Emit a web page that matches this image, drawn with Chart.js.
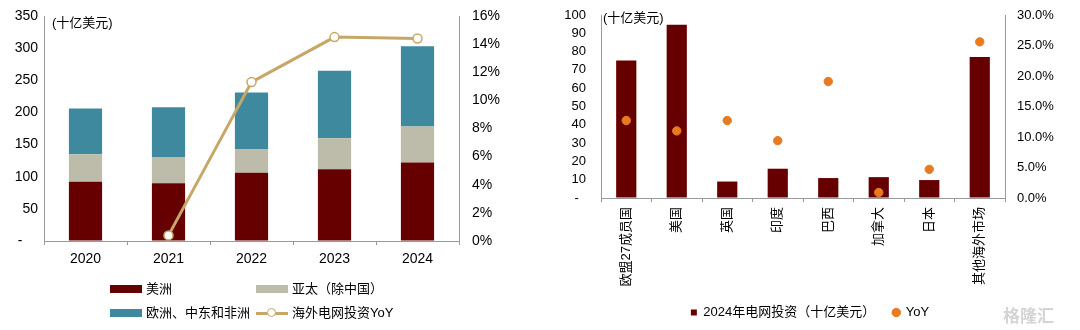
<!DOCTYPE html>
<html>
<head>
<meta charset="utf-8">
<script src="https://cdn.jsdelivr.net/npm/chart.js@4.4.1/dist/chart.umd.min.js"></script>
<style>
  body { margin: 0; background: #fff; font-family: "Liberation Sans", "Noto Sans CJK SC", sans-serif; }
  #wrap { position: relative; width: 1080px; height: 330px; overflow: hidden; }
  #left { position: absolute; left: 0; top: 0; }
  #right { position: absolute; left: 540px; top: 0; }
  .lg { position: absolute; font-size: 13px; color: #000; line-height: 16px; white-space: nowrap; }
  .sw { position: absolute; width: 32px; height: 8px; }
  .wm { position: absolute; left: 1003px; top: 302px; font-size: 17px; color: #d4d4d4; font-weight: bold; }
</style>
</head>
<body>
<div id="wrap">
  <canvas id="left" width="540" height="330"></canvas>
  <canvas id="right" width="540" height="330"></canvas>
  <div id="legendLeft"></div>
  <div class="wm">格隆汇</div>
</div>
<script>
// left chart data
const years = ['2020', '2021', '2022', '2023', '2024'];
const americas = [92, 90, 106, 111.5, 122];
const apac = [43, 40, 37, 48.5, 56];
const emea = [71, 78, 88, 105, 125];
const overseasYoY = [null, 0.4, 11.3, 14.5, 14.4];

// right chart data
const markets = ['欧盟27成员国', '美国', '英国', '印度', '巴西', '加拿大', '日本', '其他海外市场'];
const invest2024 = [75.2, 94.7, 9, 16, 10.9, 11.4, 9.8, 77];
const marketYoY = [12.7, 11.0, 12.7, 9.4, 19.1, 0.9, 4.7, 25.6];

const FONT = "'Liberation Sans', 'Noto Sans CJK SC', sans-serif";
const AXIS = '#999999';
const RED = '#660000';
const GREY = '#BDBBAA';
const TEAL = '#3E899D';
const GOLD = '#C6A767';
const ORANGE = '#E87A22';

Chart.defaults.font.family = FONT;
Chart.defaults.color = '#000';
Chart.defaults.animation = false;

// invisible tick marks used only to push the labels away from the axis line
// (ticks.padding would also add to the top padding of the chart area)
const gap = len => ({ display: true, drawOnChartArea: false, drawTicks: true, tickLength: len, tickColor: 'rgba(0,0,0,0)' });

const unitLabel = {
  id: 'unitLabel',
  afterDraw(chart, args, opts) {
    const ctx = chart.ctx;
    ctx.save();
    ctx.font = '13px ' + FONT;
    ctx.fillStyle = '#000';
    ctx.textBaseline = 'middle';
    ctx.fillText('(十亿美元)', chart.chartArea.left + opts.dx, chart.chartArea.top + opts.dy);
    ctx.restore();
  }
};

new Chart(document.getElementById('left'), {
  data: {
    labels: years,
    datasets: [
      { type: 'line', label: '海外电网投资YoY', data: overseasYoY, yAxisID: 'y1', order: 0,
        borderColor: GOLD, borderWidth: 3, pointRadius: 4.5, pointBackgroundColor: '#fff',
        pointBorderColor: GOLD, pointBorderWidth: 1.5, spanGaps: false },
      { type: 'bar', label: '美洲', data: americas, backgroundColor: RED, stack: 's', order: 1,
        barPercentage: 0.4, categoryPercentage: 1 },
      { type: 'bar', label: '亚太（除中国）', data: apac, backgroundColor: GREY, stack: 's', order: 1,
        barPercentage: 0.4, categoryPercentage: 1 },
      { type: 'bar', label: '欧洲、中东和非洲', data: emea, backgroundColor: TEAL, stack: 's', order: 1,
        barPercentage: 0.4, categoryPercentage: 1 }
    ]
  },
  options: {
    responsive: false,
    layout: { padding: { top: 16, bottom: 59, left: 0, right: 0 } },
    plugins: { legend: { display: false }, tooltip: { enabled: false },
      unitLabel: { dx: 8, dy: 7 } },
    scales: {
      x: {
        stacked: true,
        grid: { display: true, offset: true, drawOnChartArea: false, drawTicks: true, tickLength: 4, color: AXIS },
        border: { display: true, color: AXIS },
        ticks: { font: { size: 14 }, padding: 6 },
        afterFit: s => { s.height = 30; }
      },
      y: {
        stacked: true, min: 0, max: 350,
        grid: gap(6),
        border: { display: true, color: AXIS },
        ticks: { stepSize: 50, font: { size: 14 }, padding: 0, autoSkip: false,
          callback: v => v === 0 ? '-    ' : v },
        afterFit: s => { s.width = 44; }
      },
      y1: {
        position: 'right', min: 0, max: 16,
        grid: gap(12),
        border: { display: true, color: AXIS },
        ticks: { stepSize: 2, font: { size: 14 }, padding: 1, autoSkip: false, callback: v => v + '%' },
        afterFit: s => { s.width = 81; }
      }
    }
  },
  plugins: [unitLabel]
});

new Chart(document.getElementById('right'), {
  data: {
    labels: markets,
    datasets: [
      { type: 'line', label: 'YoY', data: marketYoY, yAxisID: 'y1', order: 0, showLine: false,
        pointRadius: 4.2, pointBackgroundColor: ORANGE, pointBorderColor: ORANGE, pointStyle: 'circle' },
      { type: 'bar', label: '2024年电网投资（十亿美元）', data: invest2024, backgroundColor: RED, order: 1,
        barPercentage: 0.4, categoryPercentage: 1, pointStyle: 'rect' }
    ]
  },
  options: {
    responsive: false,
    layout: { padding: { top: 15, bottom: 1, left: 0, right: 0 } },
    plugins: {
      tooltip: { enabled: false },
      unitLabel: { dx: 2, dy: 3 },
      legend: {
        position: 'bottom',
        reverse: true,
        labels: { usePointStyle: true, boxWidth: 6, boxHeight: 6, padding: 18,
          font: { size: 13 }, color: '#000' }
      }
    },
    scales: {
      x: {
        grid: { display: true, offset: true, drawOnChartArea: false, drawTicks: true, tickLength: 4, color: AXIS },
        border: { display: true, color: AXIS },
        ticks: { font: { size: 13 }, padding: 5, minRotation: 90, maxRotation: 90, autoSkip: false },
        afterFit: s => { s.height = 90; }
      },
      y: {
        min: 0, max: 100,
        grid: gap(14),
        border: { display: true, color: AXIS },
        ticks: { stepSize: 10, font: { size: 13 }, padding: 1, autoSkip: false,
          callback: v => v === 0 ? '-  ' : v },
        afterFit: s => { s.width = 61; }
      },
      y1: {
        position: 'right', min: 0, max: 30,
        grid: gap(11),
        border: { display: true, color: AXIS },
        ticks: { stepSize: 5, font: { size: 13 }, padding: 1, autoSkip: false, callback: v => v.toFixed(1) + '%' },
        afterFit: s => { s.width = 75; }
      }
    }
  },
  plugins: [unitLabel]
});

// legend for the left chart, laid out as a 2x2 grid
const legendItems = [
  { text: '美洲', kind: 'box', color: RED, x: 110, y: 289 },
  { text: '亚太（除中国）', kind: 'box', color: GREY, x: 256, y: 289 },
  { text: '欧洲、中东和非洲', kind: 'box', color: TEAL, x: 110, y: 313 },
  { text: '海外电网投资YoY', kind: 'line', color: GOLD, x: 256, y: 313 }
];
const lg = document.getElementById('legendLeft');
legendItems.forEach(it => {
  if (it.kind === 'box') {
    const b = document.createElement('div');
    b.className = 'sw';
    b.style.left = it.x + 'px';
    b.style.top = (it.y - 4) + 'px';
    b.style.background = it.color;
    lg.appendChild(b);
  } else {
    const l = document.createElement('div');
    l.style.cssText = `position:absolute;left:${it.x}px;top:${it.y - 1.5}px;width:32px;height:3px;background:${it.color}`;
    lg.appendChild(l);
    const c = document.createElement('div');
    c.style.cssText = `position:absolute;left:${it.x + 11}px;top:${it.y - 5}px;width:7px;height:7px;border:1.5px solid ${it.color};background:#fff;border-radius:50%`;
    lg.appendChild(c);
  }
  const t = document.createElement('div');
  t.className = 'lg';
  t.style.left = (it.x + 36) + 'px';
  t.style.top = (it.y - 8) + 'px';
  t.textContent = it.text;
  lg.appendChild(t);
});
</script>
</body>
</html>
